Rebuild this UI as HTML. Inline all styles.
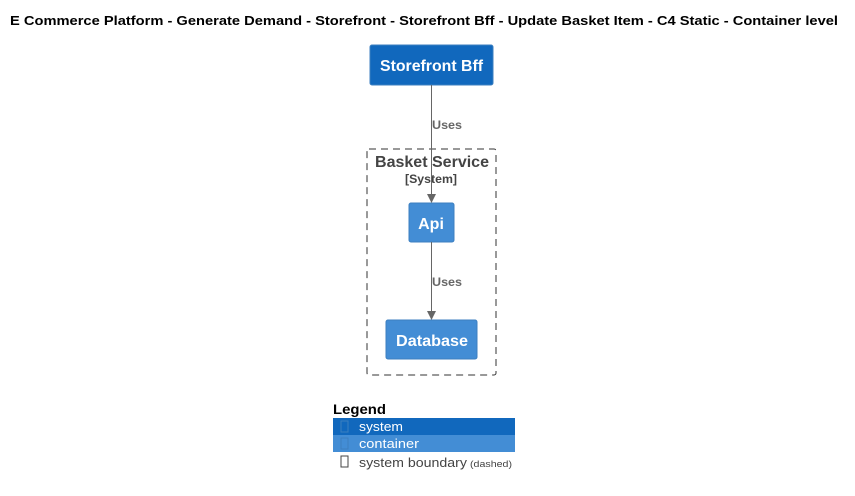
<!DOCTYPE html>
<html><head><meta charset="utf-8"><style>
body{margin:0;background:#fff;}
svg{display:block;font-family:"Liberation Sans",Arial,sans-serif;}
</style></head><body>
<svg width="855" height="496" viewBox="0 0 855 496" xmlns="http://www.w3.org/2000/svg">
<text x="10" y="25" font-size="13" font-weight="bold" fill="#000" textLength="828" lengthAdjust="spacingAndGlyphs">E Commerce Platform - Generate Demand - Storefront - Storefront Bff - Update Basket Item - C4 Static - Container level</text>
<rect x="367" y="149" width="129" height="226" rx="2" fill="none" stroke="#333" stroke-dasharray="7,5"/>
<text x="375" y="167" font-size="16" font-weight="bold" fill="#444" textLength="114" lengthAdjust="spacingAndGlyphs">Basket Service</text>
<text x="405" y="183" font-size="12" font-weight="bold" fill="#444" textLength="52" lengthAdjust="spacingAndGlyphs">[System]</text>
<rect x="370" y="45" width="123" height="40" rx="2" fill="#1168bd" stroke="#3c7fc0"/>
<text x="380" y="71" font-size="16" font-weight="bold" fill="#fff" textLength="103" lengthAdjust="spacingAndGlyphs">Storefront Bff</text>
<rect x="409" y="203" width="45" height="39" rx="2" fill="#438dd5" stroke="#3c7fc0"/>
<text x="431" y="229" text-anchor="middle" font-size="16" font-weight="bold" fill="#fff">Api</text>
<rect x="386" y="320" width="91" height="39" rx="2" fill="#438dd5" stroke="#3c7fc0"/>
<text x="396" y="346" font-size="16" font-weight="bold" fill="#fff" textLength="72" lengthAdjust="spacingAndGlyphs">Database</text>
<line x1="431.5" y1="85" x2="431.5" y2="196" stroke="#666"/>
<polygon points="427,194 436,194 431.5,203" fill="#666"/>
<text x="432" y="129" font-size="12" font-weight="bold" fill="#666" textLength="30" lengthAdjust="spacingAndGlyphs">Uses</text>
<line x1="431.5" y1="242" x2="431.5" y2="313" stroke="#666"/>
<polygon points="427,311 436,311 431.5,320" fill="#666"/>
<text x="432" y="286" font-size="12" font-weight="bold" fill="#666" textLength="30" lengthAdjust="spacingAndGlyphs">Uses</text>
<text x="333" y="414" font-size="14" font-weight="bold" fill="#000" textLength="53" lengthAdjust="spacingAndGlyphs">Legend</text>
<rect x="333" y="418" width="182" height="17" fill="#1168bd"/>
<rect x="333" y="435" width="182" height="17" fill="#438dd5"/>
<rect x="341" y="421" width="7" height="11" fill="none" stroke="#3c7fc0"/>
<rect x="341" y="438" width="7" height="11" fill="none" stroke="#3c7fc0"/>
<rect x="341" y="456" width="7" height="11" fill="none" stroke="#444"/>
<text x="359" y="431" font-size="13" fill="#fff" textLength="44" lengthAdjust="spacingAndGlyphs">system</text>
<text x="359" y="448" font-size="13" fill="#fff" textLength="60" lengthAdjust="spacingAndGlyphs">container</text>
<text x="359" y="467" font-size="13" fill="#444" textLength="108" lengthAdjust="spacingAndGlyphs">system boundary</text>
<text x="470" y="467" font-size="9" fill="#444" textLength="42" lengthAdjust="spacingAndGlyphs">(dashed)</text>
</svg>
</body></html>
